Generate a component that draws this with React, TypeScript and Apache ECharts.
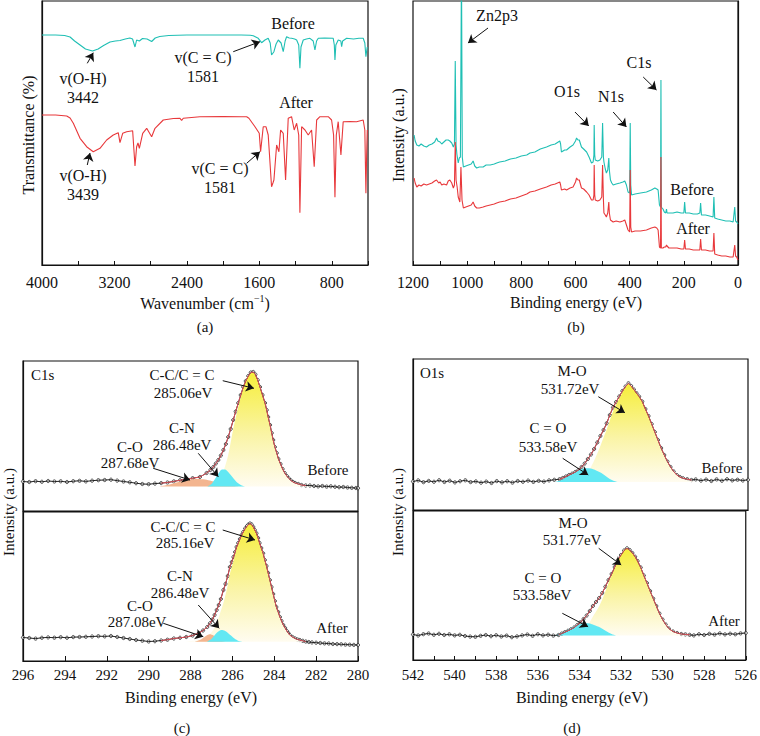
import React, { useEffect, useRef } from 'react';
import * as echarts from 'echarts';

const FONT = 'Liberation Serif';
const CYAN = '#1fbfb4';
const RED = '#e8383b';
const INK = '#111';

// ---------- (a) FTIR: [wavenumber, transmittance (a.u.)] ----------
const ftirBefore: number[][] = [
  [4000,230],[3850,230],[3750,229.5],[3690,228],[3640,224],[3580,220],[3520,216],[3442,214],[3380,216],[3320,219.5],[3249,223],
  [3190,224],[3139,224.5],[3080,226],[3030,227],[3000,226],[2973,218],[2955,225],[2925,224],[2890,226.5],[2840,226],[2789,223.5],
  [2750,227],[2700,228.5],[2600,229.5],[2400,230],[2200,230],[2000,230],[1800,230],[1700,229.8],[1667,229.3],[1612,226.7],
  [1575,222.3],[1538,225],[1502,226.7],[1480,222],[1465,210],[1439,213.3],[1415,221],[1391,225],[1360,222],[1336,213.3],[1315,224],
  [1299,228.3],[1270,227],[1244,226.7],[1210,226],[1188,225],[1165,220],[1152,196.7],[1140,218],[1115,225],[1080,226],[1041,226.7],
  [1005,224],[986,215],[968,224],[949,226.7],[880,227],[784,226.7],[772,220],[765,205],[755,220],[729,225],[700,224],[691,218.3],
  [680,224],[636,226.7],[560,226],[500,226.7],[453,226.7],[435,222],[423,208.3],[415,214],[408,218]
];
const ftirAfter: number[][] = [
  [4000,150],[3850,150],[3727,149],[3690,147],[3654,141.7],[3580,126.7],[3507,118.3],[3434,113.3],[3360,116.7],[3286,125],
  [3213,130],[3158,132.3],[3139,122.3],[3109,131.7],[3065,133.3],[2999,134.3],[2973,99],[2955,118.3],[2940,122],[2925,116.7],
  [2888,131.7],[2844,136.7],[2789,128.3],[2752,136.7],[2661,145],[2550,146.5],[2476,146.7],[2458,144.5],[2440,146.8],[2256,148.3],
  [2000,148.5],[1800,148.3],[1740,148.3],[1715,146.7],[1648,138.3],[1601,131.7],[1586,113.3],[1557,138.3],[1527,138.3],[1502,130],
  [1465,78.3],[1450,82],[1439,85],[1409,120],[1384,113.3],[1365,135],[1336,131.7],[1310,85],[1281,146.7],[1244,148.3],[1215,135],
  [1188,141.7],[1165,130],[1152,52.3],[1133,138.3],[1096,135],[1060,130],[1023,135],[994,98.3],[967,145],[931,148.3],[839,148.3],
  [802,145],[780,130],[765,67.7],[750,130],[729,143.3],[699,110],[674,143.3],[600,143.5],[526,143.3],[453,145],[435,135],
  [423,71.7],[415,110],[408,135]
];

// ---------- (b) XPS survey: [binding energy, intensity] ----------
const surveyBefore: number[][] = [
  [1196,130],[1192,124],[1186,120],[1178,119],[1170,121],[1160,119],[1150,118],[1140,120],[1130,121],[1120,123],[1113,127],[1108,124],
  [1100,123],[1094,121],[1086,123],[1078,125],[1070,125],[1064,124],[1057,122],[1051,118],[1047,121],[1044,204],[1041,120],[1038,111],
  [1033,102],[1029,107],[1025,108],[1021,300],[1018,108],[1014,98],[1005,99],[995,100],[985,101],[978,104],[972,99],[965,97],[955,98],
  [941,98],[930,100],[915,100],[900,101],[891,102],[880,103],[860,104],[840,106],[820,107],[800,109],[780,110],[768,112],[750,113],
  [730,116],[707,118],[690,120],[675,121],[658,124],[655,121],[652,113],[640,115],[633,115],[620,118],[609,120],[600,124],[596,127],
  [591,125],[586,125],[578,118],[570,116],[559,113],[550,108],[541,102],[535,103],[532,110],[531,140],[529,110],[527,105],[518,104],
  [510,105],[503,108],[500,142],[497,108],[495,103],[490,96],[486,92],[481,95],[477,107],[475,95],[471,85],[466,82],[461,80],[450,81],
  [436,82],[425,83],[418,84],[412,80],[406,73],[400,72],[398,142],[396,80],[393,70],[380,71],[360,72],[338,73],[320,75],[307,77],
  [300,76],[295,75],[290,60],[286,58],[284.5,185],[283,57],[280,57],[277,56],[272,53],[267,52],[264,56],[262,52],[255,52],[240,52],
  [225,53],[210,52],[200,52],[197,63],[194,52],[180,52],[165,51],[150,51],[141,52],[138,62],[135,50],[120,50],[105,49],[92,48],
  [89,68],[86,47],[75,46],[60,45],[45,44],[30,44],[18,43],[12,58],[9,44],[5,43],[0,41]
];
const surveyAfter: number[][] = [
  [1196,87],[1192,82],[1186,78],[1178,80],[1170,79],[1160,81],[1150,80],[1140,81],[1130,82],[1120,84],[1113,85],[1105,82],[1100,83],
  [1094,80],[1086,81],[1076,80],[1070,84],[1064,85],[1057,82],[1051,77],[1047,80],[1044,123],[1041,85],[1037,78],[1033,68],[1027,63],
  [1023,98],[1019,65],[1014,57],[1005,58],[995,59],[985,60],[978,63],[972,59],[965,57],[955,57],[941,58],[930,59],[915,60],[900,61],
  [891,62],[880,63],[860,64],[840,66],[820,67],[800,69],[780,71],[768,73],[750,74],[730,76],[707,78],[690,80],[675,81],[658,83],
  [655,80],[652,75],[640,76],[633,75],[620,77],[609,78],[600,83],[596,87],[591,85],[586,85],[578,77],[570,76],[559,73],[550,70],
  [541,65],[535,65],[532,70],[531,100],[529,70],[527,65],[518,64],[510,65],[503,68],[500,100],[497,66],[495,52],[490,50],[486,48],
  [481,52],[477,63],[475,52],[471,45],[466,44],[461,43],[450,44],[436,43],[425,44],[418,45],[412,40],[406,35],[400,33],[398,95],
  [396,38],[393,33],[380,34],[360,34],[338,35],[320,37],[307,38],[300,37],[295,35],[290,18],[286,17],[284.5,108],[283,17],[280,17],
  [277,17],[272,18],[267,18],[264,20],[262,19],[255,17],[240,17],[225,17],[210,16],[200,16],[197,25],[194,16],[180,16],[165,15],
  [150,15],[141,15],[138,26],[135,15],[120,15],[105,14],[92,14],[89,32],[86,11],[75,10],[60,9],[45,9],[30,8],[18,8],[12,20],[9,9],
  [5,8],[0,5]
];

// ---------- (c) C1s ----------
const c1sBeforeExp: number[][] = [
  [296,29.5],[295.7,29],[295.4,29.8],[295.1,29.2],[294.8,30],[294.5,29.5],[294.2,29.7],[293.9,29],[293.6,29.8],[293.3,30.2],[293,29.6],
  [292.7,30.3],[292.4,30.8],[292.1,31],[291.8,31.3],[291.5,30.4],[291.2,29.5],[290.9,28.7],[290.6,27.8],[290.3,27],[290,26.8],
  [289.7,27.4],[289.4,27.9],[289.1,28.5],[288.8,29.6],[288.5,30.8],[288.2,31.8],[287.9,32.8],[287.55,34],[287.23,38],[287.05,41],
  [286.91,44],[286.79,47.5],[286.67,51],[286.55,55.5],[286.43,61],[286.31,67],[286.2,74],[286.08,82],[285.96,91],[285.84,99.5],
  [285.72,108],[285.6,116],[285.48,124],[285.36,130],[285.24,135],[285.12,138.5],[285,139],[284.9,136.5],[284.79,131],[284.68,124],
  [284.56,116],[284.44,108],[284.36,101],[284.29,94],[284.2,86],[284.12,78],[284.05,71],[283.97,64],[283.88,58],[283.8,52],
  [283.7,47],[283.6,42],[283.5,38],[283.4,35],[283.3,32.5],[283.2,30.5],[283.1,29],[283,28],[282.85,27],[282.7,26],[282.5,25.5],
  [282.3,25.5],[282.1,25],[281.9,24.6],[281.7,25],[281.5,24.4],[281.3,24.7],[281.1,24.2],[280.9,23.8],[280.7,24],[280.5,23.5],
  [280.3,23.2],[280.1,23],[280,22.8]
];
const c1sBeforeCC: number[][] = [
  [288.2,24.5],[287.5,25.5],[287.2,26.5],[286.91,29],[286.67,33],[286.43,40],[286.2,56],[285.96,82],[285.72,104],[285.48,123],
  [285.3,133],[285.06,138.5],[284.9,136],[284.68,124],[284.44,108],[284.29,94],[284.12,78],[283.97,64],[283.8,52],[283.6,42],
  [283.4,35],[283.2,30.5],[283,28],[282.7,26],[282.4,25],[282.1,24.5]
];
const c1sBeforeCN: number[][] = [
  [287.2,24.5],[287,27],[286.8,33],[286.65,38],[286.5,41.5],[286.35,41.5],[286.2,39],[286,34],[285.8,29],[285.6,26],[285.4,24.5]
];
const c1sBeforeCO: number[][] = [
  [289.5,24.5],[289,26.5],[288.5,29.5],[288,31.5],[287.68,32],[287.3,31.5],[287,30],[286.6,28],[286.2,26],[285.7,24.5]
];
const c1sAfterExp: number[][] = [
  [296,23.5],[295.7,23],[295.4,22.4],[295.1,23.2],[294.8,23.6],[294.5,23.3],[294.2,23.8],[293.9,23.2],[293.6,23.9],[293.3,24],
  [293,24.2],[292.7,24.5],[292.4,24.8],[292.1,24.6],[291.8,25],[291.5,24],[291.2,23],[290.9,22],[290.6,21],[290.3,20.3],[290,19.5],
  [289.7,19.8],[289.4,20.5],[289.1,21.3],[288.8,22.5],[288.5,23.2],[288.2,24],[287.9,25.5],[287.6,28],[287.4,30.5],[287.2,34],
  [287.07,37.7],[286.95,41.5],[286.85,46],[286.75,51],[286.65,56],[286.55,62],[286.43,71],[286.33,77],[286.22,85],[286.12,94],
  [286.03,99],[285.95,104],[285.87,109],[285.8,114],[285.72,118],[285.64,122],[285.56,126],[285.48,129],[285.39,132.5],[285.3,135],
  [285.23,136.5],[285.16,137.5],[285.08,136.5],[285,134],[284.93,131],[284.85,127.7],[284.77,123],[284.7,118],[284.62,113],
  [284.53,107.7],[284.45,101],[284.37,95],[284.29,88],[284.21,81],[284.13,74],[284.05,67],[283.97,60],[283.9,54],[283.81,49],
  [283.73,44],[283.65,40],[283.57,36],[283.48,33],[283.4,30],[283.33,28],[283.26,26],[283.13,24],[283,22.5],[282.89,21.5],
  [282.78,21],[282.64,20.2],[282.5,19.5],[282.35,19],[282.2,18.6],[282,18.3],[281.8,18],[281.6,17.6],[281.4,17.5],[281.2,17],
  [281,16.9],[280.8,16.7],[280.6,16.4],[280.4,16.3],[280.2,16.1],[280,16]
];
const c1sAfterCC: number[][] = [
  [288.2,19.5],[287.6,21],[287.3,23.5],[287.07,27],[286.9,31.5],[286.75,38],[286.6,47],[286.43,58],[286.25,73],[286.12,87],
  [285.95,100],[285.8,112],[285.64,121],[285.48,128.5],[285.3,134.5],[285.16,137],[285,134],[284.85,127.5],[284.7,118],[284.53,107.5],
  [284.37,95],[284.21,81],[284.05,67],[283.9,54],[283.73,44],[283.57,36],[283.4,30],[283.26,26],[283,22.5],[282.8,20.5],[282.5,19.5]
];
const c1sAfterCN: number[][] = [
  [287.2,19.5],[287,22],[286.8,27],[286.6,30.5],[286.48,31],[286.3,29.5],[286.1,26],[285.9,22.5],[285.7,20],[285.5,19.3]
];
const c1sAfterCO: number[][] = [
  [287.8,19.3],[287.5,21.5],[287.3,24.5],[287.08,26.7],[286.9,25.5],[286.7,22.5],[286.5,20],[286.3,19.3]
];

// ---------- (d) O1s ----------
const o1sBeforeExp: number[][] = [
  [542,28.5],[541.75,29.6],[541.5,27.8],[541.25,29.1],[541,28.2],[540.75,29.8],[540.5,28],[540.25,29.3],[540,27.6],[539.75,28.8],
  [539.5,29.7],[539.25,27.9],[539,28.6],[538.75,27.3],[538.5,28.4],[538.25,27],[538,28.9],[537.75,27.6],[537.5,28.8],[537.25,27.4],
  [537,29],[536.75,28.2],[536.5,29.4],[536.25,28.1],[536,29.2],[535.75,28.4],[535.5,29.6],[535.25,30.2],[535,30.8],[534.85,32],
  [534.7,33.5],[534.55,35],[534.4,36.3],[534.25,38],[534.1,40],[533.95,43],[533.8,46.5],[533.65,51],[533.5,55.5],[533.35,61],
  [533.2,67.5],[533.05,74],[532.9,80],[532.75,86.7],[532.6,95],[532.45,102.5],[532.3,108],[532.15,113.5],[532,119],[531.85,123.5],
  [531.71,126.7],[531.58,124],[531.45,120.5],[531.32,116.7],[531.2,113.5],[531.05,108.5],[530.9,101],[530.75,94],[530.6,86],
  [530.45,78],[530.3,70],[530.15,62],[530,55],[529.85,48.5],[529.7,43],[529.55,38.5],[529.4,35],[529.25,33],[529.1,31.7],
  [528.9,30.8],[528.7,30],[528.5,30.6],[528.25,29.4],[528,30.4],[527.75,29],[527.5,30.6],[527.25,29.2],[527,30.8],[526.75,29.6],
  [526.5,30.3],[526.25,29.5],[526,30.2]
];
const o1sBeforeMO: number[][] = [
  [534.4,28],[534,29.5],[533.7,36],[533.39,47.5],[533.07,63],[532.9,72.5],[532.75,80.5],[532.6,89.5],[532.43,99.5],[532.27,106.5],
  [532.11,113],[531.95,119.5],[531.8,124.5],[531.71,126],[531.55,123],[531.32,116.7],[531.15,112],[531,106.7],[530.85,98.5],
  [530.68,90],[530.52,81.5],[530.36,73.3],[530.2,65],[530.04,56.7],[529.88,49.5],[529.72,43.3],[529.55,38.5],[529.4,35],
  [529.25,32.5],[529.09,31],[528.85,29.5],[528.6,28.5]
];
const o1sBeforeCO: number[][] = [
  [535.2,28],[534.9,30],[534.6,33.5],[534.3,37.5],[534,40.5],[533.7,41.7],[533.5,41.5],[533.3,40],[533,37],[532.8,34],[532.6,31],
  [532.4,29],[532.2,28]
];
const o1sAfterExp: number[][] = [
  [542,25.5],[541.75,24.5],[541.5,25.8],[541.25,26.5],[541,25.2],[540.75,26.2],[540.5,25],[540.25,25.7],[540,24.6],[539.75,25.2],
  [539.5,24],[539.25,23.4],[539,23.2],[538.75,24.2],[538.5,25],[538.25,23.8],[538,24.8],[537.75,23.5],[537.5,24.4],[537.25,22.8],
  [537,23.6],[536.75,24.6],[536.5,25.5],[536.25,24.2],[536,25.8],[535.75,24.6],[535.5,25.3],[535.25,24.4],[535,25],[534.85,26.4],
  [534.7,27.8],[534.55,29.2],[534.4,30.8],[534.25,32.5],[534.1,35],[533.95,37.6],[533.8,41],[533.65,44.5],[533.5,49],[533.35,54],
  [533.2,58],[533.05,62],[532.9,67],[532.75,73.3],[532.6,80],[532.45,86],[532.3,93],[532.15,100],[532,105],[531.85,109.5],
  [531.71,111.7],[531.58,110],[531.45,107],[531.32,103.3],[531.2,99],[531.05,92.5],[530.9,84.5],[530.75,77],[530.6,69],[530.45,61.5],
  [530.3,54],[530.15,46.5],[530,40.5],[529.85,35.5],[529.7,31.5],[529.5,28.5],[529.3,27],[529.1,26],[528.9,25.6],[528.7,25.2],
  [528.5,24.6],[528.25,25.8],[528,25],[527.75,26.2],[527.5,25.4],[527.25,26.6],[527,25.6],[526.75,26.3],[526.5,25.7],[526.25,26.6],
  [526,27]
];
const o1sAfterMO: number[][] = [
  [534.4,24.5],[534,26],[533.7,31],[533.39,42],[533.07,53],[532.9,60.5],[532.75,68.5],[532.6,77],[532.43,86],[532.27,94],
  [532.11,101.7],[531.95,107],[531.8,111],[531.71,111.7],[531.55,109],[531.32,103.3],[531.15,97],[531,90],[530.85,82],[530.68,73.3],
  [530.52,65],[530.36,56.7],[530.2,49],[530.04,41.7],[529.88,36],[529.72,31.7],[529.5,28.5],[529.25,26.5],[529,25.2],[528.7,24.5]
];
const o1sAfterCO: number[][] = [
  [535.2,24.5],[534.9,26.5],[534.6,29.5],[534.3,33],[534,35.5],[533.7,36.7],[533.5,36.5],[533.3,35],[533,32.5],[532.8,30],
  [532.6,27.5],[532.4,25.5],[532.2,24.5]
];

// ---------- annotation arrows (data coordinates: [from, to]) ----------
const arrowsA = [[[3500,201.7],[3434,212.3]],[[1888,213.3],[1593,223.3]],[[3500,100],[3470,112]],[[1740,101.7],[1593,113.3]]];
const arrowsB = [[[923,237],[997,222]],[[602,153],[551,139]],[[461,153],[412,138]],[[350,188],[301,175]]];
const arrowsC1 = [[[286.46,130.3],[284.97,122.7]],[[287.63,57.7],[286.67,34.3]],[[289.78,42.7],[288.02,31]]];
const arrowsC2 = [[[286.46,131],[284.92,121]],[[287.63,56],[286.63,32.7]],[[289.3,37.7],[287.39,24.3]]];
const arrowsD1 = [[[533.15,113.3],[531.88,97.3]],[[534.85,51.7],[533.63,35]]];
const arrowsD2 = [[[533.07,111.7],[531.99,95]],[[534.82,46.7],[533.58,33.3]]];

function markArrows(list: number[][][]) {
  return {
    silent: true,
    symbol: ['none', 'arrow'],
    symbolSize: 8,
    label: { show: false },
    lineStyle: { color: INK, width: 1, type: 'solid' },
    itemStyle: { color: INK },
    emphasis: { disabled: true },
    data: list.map((a) => [{ coord: a[0] }, { coord: a[1] }]),
  };
}

const labelFont = (size: number) => ({ color: INK, fontFamily: FONT, fontSize: size });

function xAx(grid: number, min: number, max: number, interval: number, opt: any) {
  return {
    gridIndex: grid, type: 'value', min, max, interval, inverse: true,
    axisLine: { show: true, lineStyle: { color: INK, width: 1.2 } },
    axisTick: { show: opt.ticks !== false, inside: true, length: opt.tickLen || 4, lineStyle: { color: INK, width: 1 } },
    minorTick: opt.minor ? { show: true, splitNumber: 2, length: 4, lineStyle: { color: INK, width: 1 } } : { show: false },
    axisLabel: {
      show: opt.labels !== false, ...labelFont(opt.fontSize || 15), margin: opt.margin || 8,
      showMinLabel: true, showMaxLabel: true,
      formatter: (v: number) => (opt.labelStep ? (Math.round(v) % opt.labelStep === 0 ? String(v) : '') : String(v)),
    },
    splitLine: { show: false },
  };
}
function yAx(grid: number, max: number) {
  return {
    gridIndex: grid, type: 'value', min: 0, max,
    axisLine: { show: true, lineStyle: { color: INK, width: 1.2 } },
    axisTick: { show: false }, axisLabel: { show: false }, splitLine: { show: false },
  };
}
function lineS(grid: number, data: number[][], color: string, width = 1.1, extra: any = {}) {
  return {
    type: 'line', xAxisIndex: grid, yAxisIndex: grid, data, showSymbol: false, symbol: 'none',
    lineStyle: { color, width }, clip: true, silent: true, ...extra,
  };
}
function areaS(grid: number, data: number[][], fill: any, origin: number) {
  return {
    type: 'line', xAxisIndex: grid, yAxisIndex: grid, data, showSymbol: false, symbol: 'none', smooth: 0.3,
    lineStyle: { width: 0, color: 'transparent' }, areaStyle: { color: fill, opacity: 1, origin }, silent: true,
  };
}
function dotsS(grid: number, data: number[][], arrows: number[][][]) {
  return {
    type: 'scatter', xAxisIndex: grid, yAxisIndex: grid, data, symbol: 'circle', symbolSize: 3.2,
    itemStyle: { color: '#fff', borderColor: INK, borderWidth: 0.9 }, silent: true, markLine: markArrows(arrows),
  };
}
const yellow = () => new echarts.graphic.LinearGradient(0, 0, 0, 1, [
  { offset: 0, color: '#f6ee3a' }, { offset: 0.55, color: '#faf4a6' }, { offset: 1, color: '#fffcf0' },
]);
const CYANFILL = '#62e8f3';
const PEACH = '#f3b58f';
const fitOf = (d: number[][], lo: number, hi: number) => d.filter((p) => p[0] >= lo && p[0] <= hi);

function txt(x: number, y: number, text: string, size = 15, align = 'center', rotation = 0, rich?: any) {
  return {
    type: 'text', x, y, rotation, silent: true,
    style: { text, font: size + 'px ' + FONT, fontFamily: FONT, fontSize: size, fill: INK, align, verticalAlign: 'middle', rich },
  };
}

function buildOption() {
  const grids = [
    { left: 42, top: 1, width: 326, height: 264 },
    { left: 413, top: 1, width: 325, height: 264 },
    { left: 23, top: 361, width: 335, height: 150 },
    { left: 23, top: 512, width: 335, height: 149 },
    { left: 413, top: 359, width: 335, height: 151 },
    { left: 413, top: 511, width: 335, height: 149 },
  ].map((g) => ({ ...g, show: true, borderColor: INK, borderWidth: 1.2, containLabel: false }));

  const xAxis = [
    xAx(0, 400, 4000, 400, { labelStep: 800, fontSize: 16, margin: 9 }),
    xAx(1, 0, 1200, 100, { labelStep: 200, fontSize: 16, margin: 9 }),
    xAx(2, 280, 296, 2, { labels: false, ticks: false }),
    xAx(3, 280, 296, 2, { fontSize: 15, margin: 6, tickLen: 5 }),
    xAx(4, 526, 542, 2, { labels: false, ticks: false }),
    xAx(5, 526, 542, 2, { fontSize: 15, margin: 7, minor: true, tickLen: 4 }),
  ];
  const yAxis = [yAx(0, 264), yAx(1, 264), yAx(2, 150), yAx(3, 149), yAx(4, 151), yAx(5, 149)];

  const series: any[] = [
    lineS(0, ftirBefore, CYAN, 1.1, { markLine: markArrows(arrowsA) }),
    lineS(0, ftirAfter, RED, 1.1),
    lineS(1, surveyBefore, CYAN, 1.1, { markLine: markArrows(arrowsB) }),
    lineS(1, surveyAfter, RED, 1.1),
    areaS(2, c1sBeforeCC, yellow(), 24.5),
    areaS(2, c1sBeforeCO, PEACH, 24.5),
    areaS(2, c1sBeforeCN, CYANFILL, 24.5),
    lineS(2, c1sBeforeExp, '#222', 1),
    lineS(2, fitOf(c1sBeforeExp, 282.5, 289.5), '#e0505a', 1),
    dotsS(2, c1sBeforeExp, arrowsC1),
    areaS(3, c1sAfterCC, yellow(), 19.3),
    areaS(3, c1sAfterCO, PEACH, 19.3),
    areaS(3, c1sAfterCN, CYANFILL, 19.3),
    lineS(3, c1sAfterExp, '#222', 1),
    lineS(3, fitOf(c1sAfterExp, 282.5, 289.5), '#e0505a', 1),
    dotsS(3, c1sAfterExp, arrowsC2),
    areaS(4, o1sBeforeMO, yellow(), 28),
    areaS(4, o1sBeforeCO, CYANFILL, 28),
    lineS(4, o1sBeforeExp, '#222', 1),
    lineS(4, fitOf(o1sBeforeExp, 528.6, 535.2), '#e0505a', 1),
    dotsS(4, o1sBeforeExp, arrowsD1),
    areaS(5, o1sAfterMO, yellow(), 24.5),
    areaS(5, o1sAfterCO, CYANFILL, 24.5),
    lineS(5, o1sAfterExp, '#222', 1),
    lineS(5, fitOf(o1sAfterExp, 528.6, 535.2), '#e0505a', 1),
    dotsS(5, o1sAfterExp, arrowsD2),
  ];

  const sup = {
    a: { fontFamily: FONT, fontSize: 16, fill: INK, lineHeight: 20 },
    s: { fontFamily: FONT, fontSize: 10, fill: INK, lineHeight: 20, verticalAlign: 'top' },
  };
  const R = Math.PI / 2;
  const graphic = [
    txt(28, 135, 'Transmittance (%)', 16, 'center', R),
    txt(205, 303, '{a|Wavenumber (cm}{s|−1}{a|)}', 16, 'center', 0, sup),
    txt(205, 327, '(a)', 15),
    txt(293, 23, 'Before', 16), txt(296, 102, 'After', 16),
    txt(83, 78, 'v(O-H)', 16), txt(83, 97, '3442', 16),
    txt(203, 57, 'v(C = C)', 16), txt(203, 76, '1581', 16),
    txt(83, 175, 'v(O-H)', 16), txt(83, 194, '3439', 16),
    txt(220, 168, 'v(C = C)', 16), txt(220, 187, '1581', 16),
    txt(398, 135, 'Intensity (a.u.)', 16, 'center', R),
    txt(576, 302, 'Binding energy (eV)', 16),
    txt(576, 327, '(b)', 15),
    txt(497, 15, 'Zn2p3', 16), txt(567, 91, 'O1s', 16), txt(611, 96, 'N1s', 16), txt(639, 62, 'C1s', 16),
    txt(692, 189, 'Before', 16), txt(693, 228, 'After', 16),
    txt(9, 512, 'Intensity (a.u.)', 15, 'center', R),
    txt(191, 697, 'Binding energy (eV)', 16),
    txt(182, 728, '(c)', 15),
    txt(31, 375, 'C1s', 15, 'left'),
    txt(182, 375, 'C-C/C = C', 15), txt(183, 393, '285.06eV', 15),
    txt(182, 428, 'C-N', 15), txt(182, 445, '286.48eV', 15),
    txt(130, 447, 'C-O', 15), txt(130, 463, '287.68eV', 15),
    txt(328, 470, 'Before', 15),
    txt(183, 527, 'C-C/C = C', 15), txt(185, 543, '285.16eV', 15),
    txt(180, 576, 'C-N', 15), txt(180, 593, '286.48eV', 15),
    txt(140, 606, 'C-O', 15), txt(137, 622, '287.08eV', 15),
    txt(332, 628, 'After', 15),
    txt(398, 512, 'Intensity (a.u.)', 15, 'center', R),
    txt(582, 697, 'Binding energy (eV)', 16),
    txt(572, 728, '(d)', 15),
    txt(420, 373, 'O1s', 15, 'left'),
    txt(572, 371, 'M-O', 15), txt(570, 389, '531.72eV', 15),
    txt(548, 428, 'C = O', 15), txt(548, 447, '533.58eV', 15),
    txt(722, 468, 'Before', 15),
    txt(573, 523, 'M-O', 15), txt(572, 540, '531.77eV', 15),
    txt(543, 578, 'C = O', 15), txt(542, 595, '533.58eV', 15),
    txt(724, 621, 'After', 15),
  ];

  return {
    animation: false, backgroundColor: '#fff',
    textStyle: { fontFamily: FONT },
    grid: grids, xAxis, yAxis, series, graphic,
  };
}

export default function App() {
  const ref = useRef<HTMLDivElement>(null);
  useEffect(() => {
    const chart = echarts.init(ref.current as HTMLDivElement, null, { renderer: 'svg' });
    chart.setOption(buildOption() as any);
    return () => chart.dispose();
  }, []);
  return (
    <div
      ref={ref}
      style={{ position: 'absolute', left: 0, top: 0, width: 760, height: 736, background: '#fff' }}
    />
  );
}
